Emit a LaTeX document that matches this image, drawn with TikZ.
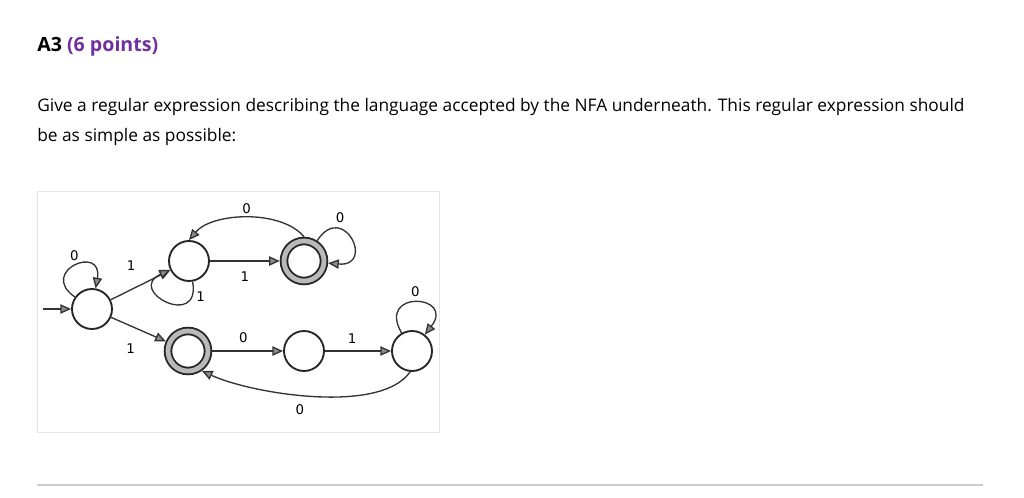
\documentclass[tikz,border=0pt]{standalone}
\usepackage{fontspec}
\setmainfont{Open Sans}
\newfontfamily\labelfont{DejaVu Sans}
\usetikzlibrary{automata,positioning,arrows.meta}

\definecolor{pointpurple}{RGB}{112,48,160}
\definecolor{edgegray}{RGB}{51,51,51}
\definecolor{ringgray}{RGB}{185,185,185}
\definecolor{framegray}{RGB}{228,228,228}
\definecolor{rulegray}{RGB}{204,204,204}

\begin{document}
\begin{tikzpicture}[x=0.75pt, y=0.75pt, auto,
    >={Triangle[length=8pt,width=7pt,fill=gray!90]},
    every state/.style={draw=black!85, line width=1.4pt, fill=white, minimum size=30pt, inner sep=0pt},
    ring/.style={double=ringgray, double distance=3.6pt, minimum size=30pt, outer sep=3.2pt},
    every edge/.style={draw=edgegray, line width=1pt},
    sym/.style={font=\labelfont\fontsize{10}{12}\selectfont, inner sep=#1},
    sym/.default=4pt,
    bodytext/.style={font=\fontsize{13}{15}\selectfont, inner sep=0pt, anchor=base west},
    initial text={}, initial distance=21pt
  ]
    \useasboundingbox (0,0) rectangle (1024,497);

    % heading and question
    \node[bodytext, font=\fontsize{14.7}{17}\selectfont\bfseries] (title) at (37,445.3)
      {A3 \textcolor{pointpurple}{(6 points)}};
    \node[bodytext] (line1) at (37,385)
      {Give a regular expression describing the language accepted by the NFA underneath. This regular expression should};
    \node[bodytext] (line2) at (37,355.5) {be as simple as possible:};

    % frame round the automaton and rule below
    \draw[framegray, line width=0.75pt] (37.3,64.7) rectangle (439.3,305.3);
    \draw[rulegray, line width=1.3pt] (37,12) -- (983,12);

    % states: upper row, lower row
    \node[state, initial]     (q0) at (92,188)  {};
    \node[state]              (q1) at (189,236) {};
    \node[state, accepting, ring] (q2) at (304,236) {};
    \node[state, accepting, ring] (q3) at (188,146) {};
    \node[state]              (q4) at (304,146) {};
    \node[state]              (q5) at (412,146) {};

    % q0
    \path[->] (q0) edge[out=145, in=80, distance=34pt] node[sym=3.7pt, above] {0} (q0);
    \path[->] (q0) edge node[sym=7.8pt, pos=0.6, above left] {1} (q1);
    \path[->] (q0) edge node[sym=7.9pt, pos=0.64, below left] {1} (q3);

    % q1
    \path[->] (q1) edge[out=-80, in=205, distance=37pt] node[sym=3pt, pos=0.14, right] {1} (q1);
    \path[->] (q1) edge node[sym=7.5pt, swap] {1} (q2);

    % q2
    \path[->] (q2) edge[out=57, in=-5, distance=36pt] node[sym=3.7pt, pos=0.3, above] {0} (q2);
    \path[->] (q2.north) edge[out=130, in=50, looseness=0.8] node[sym=2.2pt, swap] {0} (q1.north);

    % q3
    \path[->] (q3) edge node[sym=5.5pt, pos=0.44] {0} (q4);

    % q4
    \path[->] (q4) edge node[sym=5.5pt, pos=0.41] {1} (q5);

    % q5
    \path[->] (q5) edge[out=120, in=52, distance=38pt] node[sym=3.7pt, above] {0} (q5);
    \path[->] (q5.265) edge[out=235, in=-25, looseness=0.65] node[sym=6pt] {0} (q3.305);
  \end{tikzpicture}
\end{document}
